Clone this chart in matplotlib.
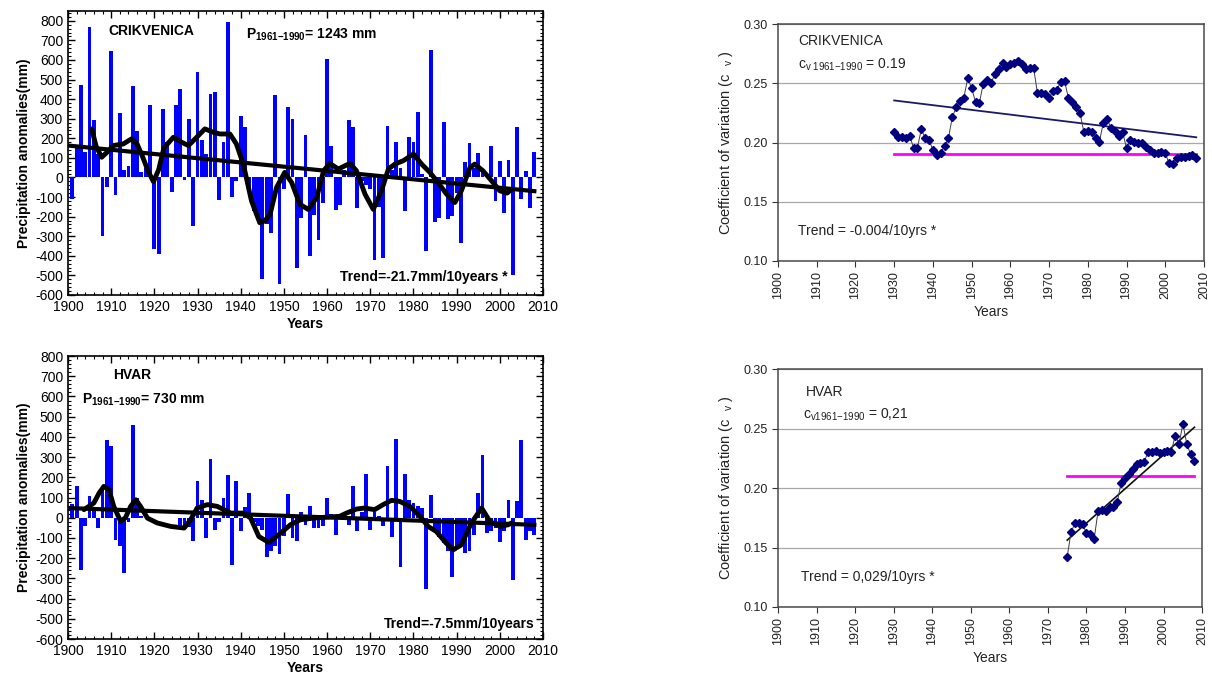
import numpy as np
import matplotlib
matplotlib.use("Agg")
import matplotlib.pyplot as plt
from matplotlib.ticker import MultipleLocator, FormatStrFormatter

plt.rcParams['font.family'] = ['Liberation Sans', 'DejaVu Sans']
plt.rcParams['mathtext.fontset'] = 'custom'
plt.rcParams['mathtext.rm'] = 'Liberation Sans'
plt.rcParams['mathtext.it'] = 'Liberation Sans:italic'
plt.rcParams['mathtext.bf'] = 'Liberation Sans:bold'
plt.rcParams['axes.unicode_minus'] = False

# ---- precipitation anomalies (mm), 1901-2008 ----
years = list(range(1901, 2009))

crik_anom = [-110, 150, 470, 130, 770, 295, 120, -300, -50, 645,
             -90, 330, 40, 60, 465, 235, 30, 50, 370, -365,
             -390, 350, 180, -75, 370, 450, -15, 300, -250, 540,
             190, 120, 425, 435, -115, 180, 795, -100, -20, 315,
             260, -50, -170, -200, -520, -240, -285, 420, -545, -60,
             360, 300, -460, -205, 215, -400, -190, -317, -130, 605,
             160, -168, -140, 40, 295, 257, -155, -20, -40, -60,
             -420, -150, -410, 265, 40, 180, 50, -170, 205, 180,
             335, 20, -373, 650, -230, -205, 283, -214, -197, -80,
             -334, 77, 175, 50, 123, 40, 20, 160, -120, 86,
             -180, 90, -497, 260, -110, 35, -154, 128]

nan = np.nan
hvar_anom = [70, 155, -258, -43, 110, 50, -50, 140, 385, 355,
             -110, -140, -275, -20, 457, 100, 10, nan, nan, nan,
             nan, nan, nan, nan, nan, -40, -45, -45, -117, 180,
             90, -100, 290, -60, -20, 100, 213, -233, 183, -65,
             55, 120, -20, -40, -60, -195, -167, -140, -180, -90,
             115, -100, -117, 30, -35, 60, -50, -50, -40, 100,
             20, -84, 0, 20, -35, 159, -68, 30, 217, -60,
             30, 10, -40, 258, -93, 390, -242, 214, 86, 73,
             56, 50, -354, 114, -68, -93, -126, -167, -295, -142,
             -126, -172, -167, -84, 122, 308, -76, -68, -50, -118,
             -68, 89, -308, 81, 387, -109, -68, -84]

# smoothed curves
crik_smooth_x = [1905.5, 1906.5, 1907.8, 1909.0, 1910.5, 1912.8, 1914.7, 1916.0, 1917.2, 1918.6,
                 1919.8, 1921.0, 1922.2, 1924.4, 1926.3, 1927.9, 1929.8, 1931.7, 1933.6, 1935.2,
                 1937.5, 1939.0, 1940.6, 1942.5, 1944.4, 1945.6, 1946.8, 1948.3, 1950.2, 1951.8,
                 1953.7, 1955.6, 1957.6, 1959.2, 1960.6, 1962.6, 1965.3, 1966.8, 1968.8, 1970.7,
                 1972.6, 1974.2, 1975.7, 1977.7, 1980.0, 1981.9, 1983.8, 1985.7, 1987.7, 1989.6,
                 1991.1, 1993.1, 1994.2, 1996.1, 1998.1, 2000.0, 2001.7, 2002.7]
crik_smooth_y = [248, 160, 103, 128, 163, 171, 197, 171, 110, 30,
                 -22, 40, 150, 205, 180, 163, 205, 248, 231, 222,
                 222, 171, 68, -120, -231, -222, -188, -51, 26, -26,
                 -137, -163, -103, 34, 72, 43, 72, 34, -86, -163,
                 -68, 43, 68, 86, 120, 68, 26, -26, -86, -128,
                 -68, 51, 68, 34, -17, -68, -80, -60]

hvar_smooth_x = [1903.7, 1906.0, 1907.2, 1908.3, 1909.5, 1910.6, 1912.2, 1913.3, 1914.5,
                 1915.7, 1916.8, 1918.4, 1920.7, 1923.8, 1926.9, 1928.4, 1929.9, 1932.3, 1934.6,
                 1937.7, 1940.7, 1942.3, 1944.2, 1946.5, 1948.8, 1951.5, 1953.8, 1956.8, 1959.9,
                 1962.9, 1964.5, 1966.8, 1968.7, 1971.0, 1973.0, 1974.9, 1976.8, 1979.2, 1981.5,
                 1983.4, 1985.3, 1987.6, 1989.2, 1991.1, 1993.4, 1995.8, 1997.7, 2000.0, 2001.9,
                 2002.7]
hvar_smooth_y = [40, 73, 122, 155, 139, 56, -18, 0, 56,
                 89, 56, -2, -26, -43, -51, -10, 48, 65, 56,
                 23, 23, -2, -93, -122, -84, -35, -10, -2, 3,
                 7, 23, 43, 48, 40, 65, 86, 81, 56, 7,
                 -43, -68, -126, -159, -134, -26, 48, -18, -43, -35,
                 -26]

crik_trend_x = [1900, 2008]
crik_trend_y = [163, -70]
hvar_trend_x = [1900, 2008]
hvar_trend_y = [48, -35]

# ---- coefficient of variation ----
crik_cv_years = list(range(1930, 2009))
crik_cv = [0.2086, 0.2046, 0.2046, 0.2038, 0.2055, 0.1956, 0.1956, 0.2111, 0.2041, 0.2021,
           0.1937, 0.1894, 0.1914, 0.1970, 0.2035, 0.2212, 0.2297, 0.2350, 0.2378, 0.2544,
           0.2457, 0.2345, 0.2336, 0.2494, 0.2525, 0.2499, 0.2578, 0.2617, 0.2674, 0.2640,
           0.2662, 0.2668, 0.2688, 0.2662, 0.2620, 0.2626, 0.2631, 0.2415, 0.2415, 0.2406,
           0.2373, 0.2437, 0.2443, 0.2513, 0.2519, 0.2373, 0.2345, 0.2302, 0.2246, 0.2086,
           0.2100, 0.2086, 0.2041, 0.2007, 0.2167, 0.2198, 0.2120, 0.2097, 0.2058, 0.2086,
           0.1951, 0.2021, 0.2007, 0.1993, 0.1993, 0.1965, 0.1937, 0.1914, 0.1914, 0.1923,
           0.1909, 0.1824, 0.1816, 0.1872, 0.1880, 0.1880, 0.1886, 0.1894, 0.1872]
crik_cv_trend_x = [1930, 2008]
crik_cv_trend_y = [0.2355, 0.2044]
crik_cv_ref = 0.19

hvar_cv_years = list(range(1975, 2009))
hvar_cv = [0.1421, 0.1632, 0.1702, 0.1708, 0.1697, 0.1618, 0.1610, 0.1573, 0.1809, 0.1815,
           0.1809, 0.1837, 0.1837, 0.1885, 0.2045, 0.2081, 0.2115, 0.2157, 0.2202, 0.2208,
           0.2222, 0.2306, 0.2306, 0.2315, 0.2292, 0.2306, 0.2312, 0.2306, 0.2441, 0.2371,
           0.2539, 0.2371, 0.2284, 0.2228]
hvar_cv_trend_x = [1975, 2008]
hvar_cv_trend_y = [0.1562, 0.2511]
hvar_cv_ref = 0.21


def draw_anomalies(ax, vals, sm_x, sm_y, tr_x, tr_y, ytop):
    ax.bar(years, vals, width=0.88, color='#0000ff', zorder=2)
    ax.plot(tr_x, tr_y, color='black', lw=3, zorder=3)
    ax.plot(sm_x, sm_y, color='black', lw=3.5, solid_joinstyle='round',
            solid_capstyle='round', zorder=4)
    ax.set_xlim(1900, 2010)
    ax.set_ylim(-600, ytop)
    ax.xaxis.set_major_locator(MultipleLocator(10))
    ax.xaxis.set_minor_locator(MultipleLocator(2))
    ax.yaxis.set_major_locator(MultipleLocator(100))
    ax.yaxis.set_minor_locator(MultipleLocator(20))
    ax.tick_params(which='both', direction='in', top=True, right=True)
    ax.tick_params(which='major', length=5, width=1, labelsize=10)
    ax.tick_params(which='minor', length=2.5, width=0.8)
    for s in ax.spines.values():
        s.set_linewidth(1.2)
    ax.set_xlabel('Years', fontsize=10, fontweight='bold', labelpad=2)
    ax.set_ylabel('Precipitation anomalies(mm)', fontsize=10, fontweight='bold', labelpad=3)


def draw_cv(ax, yrs, cv, tr_x, tr_y, ref, trend_color, trend_lw):
    ax.plot([yrs[0], yrs[-1]], [ref, ref], color='#ff00ff', lw=2, zorder=3)
    ax.plot(tr_x, tr_y, color=trend_color, lw=trend_lw, zorder=4)
    ax.plot(yrs, cv, color='#3a3a4a', lw=0.7, zorder=5)
    ax.plot(yrs, cv, 'D', color='#000080', ms=3.8, mec='#000080', zorder=6)
    ax.set_xlim(1900, 2010)
    ax.set_ylim(0.10, 0.30)
    ax.set_xticks(range(1900, 2011, 10))
    ax.set_yticks([0.10, 0.15, 0.20, 0.25, 0.30])
    ax.yaxis.set_major_formatter(FormatStrFormatter('%.2f'))
    ax.yaxis.grid(True, color='#a8a8a8', lw=0.9)
    ax.set_axisbelow(True)
    ax.tick_params(direction='out', length=4, labelsize=9, colors='#333333', labelcolor='#222222')
    for lab in ax.get_xticklabels():
        lab.set_rotation(90)
    for s in ax.spines.values():
        s.set_color('#4a4a4a')
        s.set_linewidth(1.1)
    ax.set_xlabel('Years', fontsize=10, color='#222222', labelpad=4)
    ax.set_ylabel(r'Coefficient of variation (c  $_{\rm v}$ )', fontsize=10.5, color='#222222', labelpad=6)


fig = plt.figure(figsize=(12.12, 6.77), dpi=100)

ax1 = fig.add_axes([0.0561, 0.5643, 0.3919, 0.4195])
draw_anomalies(ax1, crik_anom, crik_smooth_x, crik_smooth_y, crik_trend_x, crik_trend_y, 850)
ax1.text(1909.3, 748, 'CRIKVENICA', fontsize=10, fontweight='bold', va='center', zorder=6)
ax1.text(1941.3, 728, r'P$_{\mathbf{1961{-}1990}}$= 1243 mm', fontsize=10, fontweight='bold',
         va='center', zorder=6)
ax1.text(2001.9, -507, 'Trend=-21.7mm/10years *', fontsize=10, fontweight='bold',
         ha='right', va='center', zorder=6)

ax2 = fig.add_axes([0.0561, 0.0561, 0.3919, 0.418])
draw_anomalies(ax2, hvar_anom, hvar_smooth_x, hvar_smooth_y, hvar_trend_x, hvar_trend_y, 800)
ax2.text(1910.4, 707, 'HVAR', fontsize=10, fontweight='bold', va='center', zorder=6)
ax2.text(1903.2, 584, r'P$_{\mathbf{1961{-}1990}}$= 730 mm', fontsize=10, fontweight='bold',
         va='center', zorder=6)
ax2.text(2008.0, -525, 'Trend=-7.5mm/10years', fontsize=10, fontweight='bold',
         ha='right', va='center', zorder=6)

ax3 = fig.add_axes([0.6419, 0.6145, 0.3515, 0.350])
draw_cv(ax3, crik_cv_years, crik_cv, crik_cv_trend_x, crik_cv_trend_y, crik_cv_ref, '#1a1a66', 1.3)
ax3.text(1905.2, 0.2857, 'CRIKVENICA', fontsize=10, va='center', color='#222222')
ax3.text(1905.2, 0.2654, r'c$_{\rm v\ 1961{-}1990}$ = 0.19', fontsize=10, va='center', color='#222222')
ax3.text(1905.2, 0.1253, 'Trend = -0.004/10yrs *', fontsize=10, va='center', color='#222222')

ax4 = fig.add_axes([0.6419, 0.1034, 0.3500, 0.3515])
draw_cv(ax4, hvar_cv_years, hvar_cv, hvar_cv_trend_x, hvar_cv_trend_y, hvar_cv_ref, '#111111', 1.2)
ax4.text(1907.3, 0.2807, 'HVAR', fontsize=10, va='center', color='#222222')
ax4.text(1906.5, 0.2613, r'c$_{\rm v1961{-}1990}$ = 0,21', fontsize=10, va='center', color='#222222')
ax4.text(1906.0, 0.1252, 'Trend = 0,029/10yrs *', fontsize=10, va='center', color='#222222')

fig.savefig('out.png', dpi=100)
